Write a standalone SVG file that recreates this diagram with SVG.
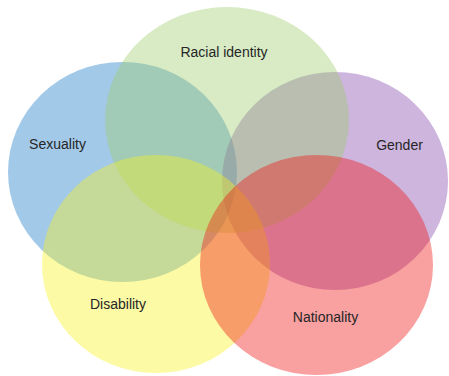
<svg xmlns="http://www.w3.org/2000/svg" width="449" height="376" viewBox="0 0 449 376">
<style>
.c{fill-opacity:0.4;stroke:none}
.t{font-family:"Liberation Sans",Arial,sans-serif;font-size:14px;fill:#262626;text-anchor:middle}
</style>
<rect width="449" height="376" fill="#ffffff"/>
<g id="sexuality"><ellipse class="c" cx="122.5" cy="172" rx="114.5" ry="110" fill="#1978c8"/></g>
<g id="gender"><ellipse class="c" cx="335" cy="181" rx="113" ry="109" fill="#8246ad"/></g>
<g id="racial-identity"><ellipse class="c" cx="227" cy="120" rx="122" ry="113" fill="#9dcd6b"/></g>
<g id="disability"><ellipse class="c" cx="156" cy="264" rx="114" ry="109" fill="#f7f21e"/></g>
<g id="nationality"><ellipse class="c" cx="316.5" cy="265" rx="116.5" ry="110" fill="#f01212"/></g>
<g id="labels">
<text class="t" x="224" y="57">Racial identity</text>
<text class="t" x="57.5" y="149">Sexuality</text>
<text class="t" x="399.5" y="150">Gender</text>
<text class="t" x="118" y="309">Disability</text>
<text class="t" x="325.5" y="322">Nationality</text>
</g>
</svg>
